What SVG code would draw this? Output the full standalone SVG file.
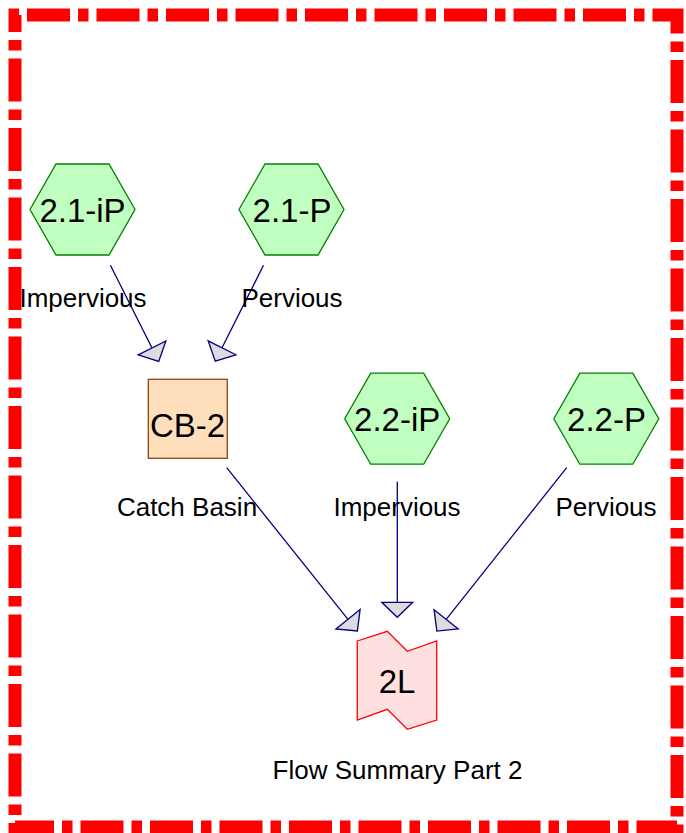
<svg xmlns="http://www.w3.org/2000/svg" xmlns:xlink="http://www.w3.org/1999/xlink" width="686" height="833" viewBox="0 0 686 833">
<style>
.hex{fill:#C0FFC0;stroke:#008000;stroke-width:1.3}
.name{font-family:"Liberation Sans",Arial,sans-serif;font-size:33px;fill:#000;text-anchor:middle}
.lbl{font-family:"Liberation Sans",Arial,sans-serif;font-size:26px;fill:#000;text-anchor:middle}
.conn{stroke:#000080;stroke-width:1.3;fill:none;marker-end:url(#arr)}
</style>
<defs>
<polygon id="hexshape" points="-52.5,0 -26.5,-45.5 26.5,-45.5 52.5,0 26.5,45.5 -26.5,45.5"/>
<marker id="arr" markerUnits="userSpaceOnUse" markerWidth="40" markerHeight="40" refX="0" refY="0" orient="auto" overflow="visible" viewBox="-20 -20 40 40">
<path d="M0,-15.5 L15,0 L0,15.5 Z" fill="#DCDCDC" stroke="#000080" stroke-width="1.3"/>
</marker>
</defs>
<rect x="15" y="15" width="662" height="812" fill="none" stroke="#FF0000" stroke-width="13" stroke-dasharray="43 8 10.5 8" stroke-dashoffset="57.5"/>
<g id="connectors">
<line class="conn" x1="110.4" y1="265.3" x2="152" y2="348"/>
<line class="conn" x1="263.5" y1="265.3" x2="222" y2="347.8"/>
<line class="conn" x1="226.7" y1="467.7" x2="348" y2="619.3"/>
<line class="conn" x1="397.3" y1="481.7" x2="397.3" y2="602.3"/>
<line class="conn" x1="566.7" y1="467.7" x2="446.2" y2="619.3"/>
</g>
<g id="n21iP">
<use xlink:href="#hexshape" class="hex" transform="translate(82.5,209.5)"/>
<text class="name" x="82.5" y="221.5">2.1-iP</text>
<text class="lbl" x="83" y="306.5">Impervious</text>
</g>
<g id="n21P">
<use xlink:href="#hexshape" class="hex" transform="translate(291.5,209.5)"/>
<text class="name" x="292" y="221.5">2.1-P</text>
<text class="lbl" x="292" y="306.5">Pervious</text>
</g>
<g id="nCB2">
<rect x="148.3" y="379.3" width="79" height="79" fill="#FFDEBC" stroke="#8B4513" stroke-width="1.3"/>
<text class="name" x="187.5" y="436.5">CB-2</text>
<text class="lbl" x="187" y="516">Catch Basin</text>
</g>
<g id="n22iP">
<use xlink:href="#hexshape" class="hex" transform="translate(397.2,418.7)"/>
<text class="name" x="397.2" y="430.7">2.2-iP</text>
<text class="lbl" x="397" y="516">Impervious</text>
</g>
<g id="n22P">
<use xlink:href="#hexshape" class="hex" transform="translate(606.3,418.7)"/>
<text class="name" x="606.5" y="430.7">2.2-P</text>
<text class="lbl" x="606" y="516">Pervious</text>
</g>
<g id="n2L">
<path d="M357.3,641 L387.3,631.3 L407.3,651.3 L436.7,641 L436.7,720 L407.3,729.3 L387.3,709.3 L357.3,720 Z" fill="#FFE0E0" stroke="#FF0000" stroke-width="1.3"/>
<text class="name" x="397" y="693.3">2L</text>
<text class="lbl" x="397.5" y="779">Flow Summary Part 2</text>
</g>
</svg>
